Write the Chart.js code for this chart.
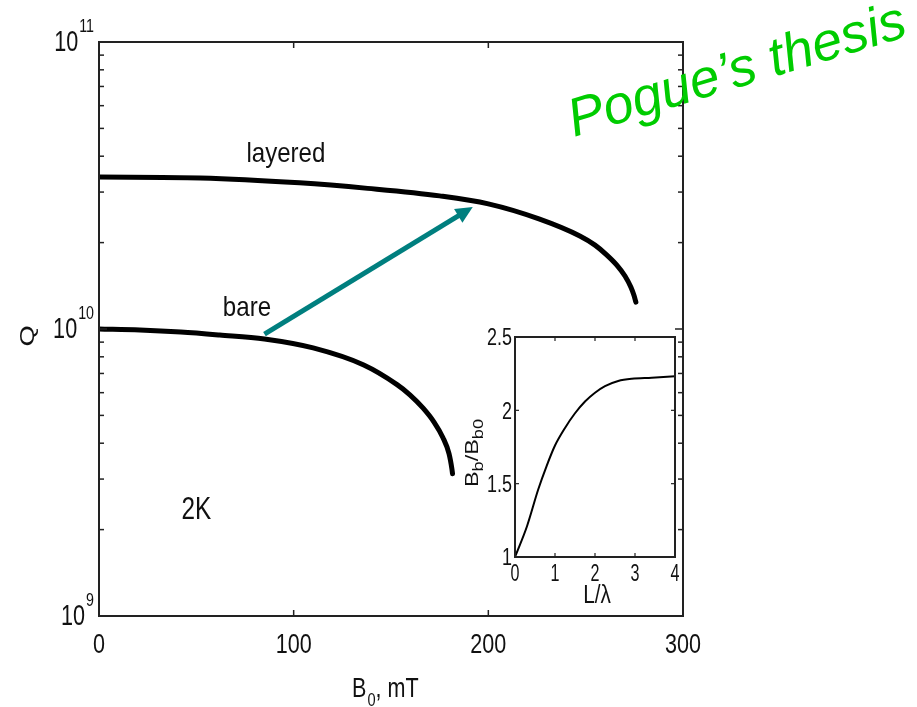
<!DOCTYPE html>
<html>
<head>
<meta charset="utf-8">
<script src="https://cdn.jsdelivr.net/npm/chart.js@4.4.1/dist/chart.umd.min.js"></script>
<style>
html, body { margin: 0; padding: 0; background: #fff; }
#wrap { position: relative; width: 917px; height: 707px; overflow: hidden; }
#main { position: absolute; left: 0; top: 0; }
#inset { position: absolute; left: 440px; top: 320px; }
</style>
</head>
<body>
<div id="wrap">
  <canvas id="main" width="917" height="707"></canvas>
  <canvas id="inset" width="260" height="300"></canvas>
</div>
<script>
// main plot: Q vs B0 (mT)
const layeredB = [0, 52, 103, 138, 175, 200, 226, 247, 254.8, 260.9, 266, 270.2, 273.2, 274.8, 275.8];
const layeredQ = [3.385e10, 3.36e10, 3.23e10, 3.09e10, 2.91e10, 2.73e10, 2.42e10, 2.11e10, 1.96e10, 1.81e10, 1.67e10, 1.53e10, 1.40e10, 1.31e10, 1.24e10];
const bareB = [0, 21, 42, 62, 85, 110, 136, 153.1, 159.7, 166.4, 172.1, 176.7, 179.8, 181.3, 181.6];
const bareQ = [1.00e10, 9.92e9, 9.76e9, 9.53e9, 9.23e9, 8.59e9, 7.49e9, 6.40e9, 5.90e9, 5.31e9, 4.74e9, 4.18e9, 3.68e9, 3.25e9, 3.13e9];

const bTicks = [0, 100, 200, 300];
const qDecades = [9, 10, 11];

// annotations, in data units [B, Q]
const layeredLabel = [96, 4.05e10];
const bareLabel = [76, 1.18e10];
const tempLabel = [50, 2.34e9];
const arrowFrom = [85, 9.6e9];
const arrowTo = [192, 2.66e10];

// inset: Bb/Bb0 vs L/lambda
const ratioL = [0, 0.3, 0.58, 0.79, 1.0, 1.25, 1.5, 1.75, 2.0, 2.25, 2.58, 2.92, 3.42, 4.0];
const ratioB = [1.0, 1.21, 1.46, 1.62, 1.76, 1.88, 1.98, 2.06, 2.12, 2.165, 2.2, 2.215, 2.222, 2.232];
const lTicks = [0, 1, 2, 3, 4];
const rTicks = [1, 1.5, 2, 2.5];

const FONT = '"Liberation Sans", Arial, Helvetica, sans-serif';
const INK = '#111';

function putText(ctx, s, x, y, size, sx, align, base, rot) {
    ctx.save();
    ctx.translate(x, y);
    if (rot) ctx.rotate(rot);
    ctx.scale(sx, 1);
    ctx.font = size + 'px ' + FONT;
    ctx.textAlign = align || 'center';
    ctx.textBaseline = base || 'middle';
    ctx.fillStyle = INK;
    ctx.fillText(s, 0, 0);
    ctx.restore();
}

function textW(ctx, s, size, sx) {
    ctx.font = size + 'px ' + FONT;
    return ctx.measureText(s).width * sx;
}

function line(ctx, x1, y1, x2, y2) {
    ctx.beginPath();
    ctx.moveTo(x1, y1);
    ctx.lineTo(x2, y2);
    ctx.stroke();
}

const mainDecor = {
    id: 'mainDecor',
    afterDraw(chart) {
        const ctx = chart.ctx;
        const a = chart.chartArea;
        const xs = chart.scales.x, ys = chart.scales.y;

        // frame
        ctx.save();
        ctx.strokeStyle = '#222';
        ctx.lineWidth = 2;
        ctx.strokeRect(a.left, a.top, a.right - a.left, a.bottom - a.top);

        // inward ticks
        ctx.lineWidth = 1.5;
        bTicks.forEach(v => {
            if (v === 0 || v === 300) return;
            const px = xs.getPixelForValue(v);
            line(ctx, px, a.bottom, px, a.bottom - 6);
            line(ctx, px, a.top, px, a.top + 6);
        });
        for (let d = 9; d < 11; d++) {
            for (let m = 2; m <= 9; m++) {
                const py = ys.getPixelForValue(m * Math.pow(10, d));
                line(ctx, a.left, py, a.left + 5, py);
                line(ctx, a.right, py, a.right - 5, py);
            }
        }
        const mid = ys.getPixelForValue(1e10);
        line(ctx, a.left, mid, a.left + 8, mid);
        line(ctx, a.right, mid, a.right - 8, mid);
        ctx.restore();

        // x tick labels
        bTicks.forEach(v => {
            putText(ctx, String(v), xs.getPixelForValue(v), 645, 28, 0.77);
        });

        // y tick labels 10^n
        qDecades.forEach(d => {
            const py = ys.getPixelForValue(Math.pow(10, d));
            const sup = String(d);
            const supW = textW(ctx, sup, 19, 0.75);
            const right = 94;
            putText(ctx, '10', right - supW - 1, py + 1, 30, 0.72, 'right');
            putText(ctx, sup, right - supW, py - 15, 19, 0.75, 'left');
        });

        // axis titles
        let bx = 352;
        putText(ctx, 'B', bx, 689, 28, 0.77, 'left');
        bx += textW(ctx, 'B', 28, 0.77) + 1;
        putText(ctx, '0', bx, 701, 19, 0.77, 'left');
        bx += textW(ctx, '0', 19, 0.77);
        putText(ctx, ', mT', bx, 689, 28, 0.77, 'left');

        putText(ctx, 'Q', 28, 336, 21, 1.3, 'center', 'middle', -Math.PI / 2);

        // curve labels
        putText(ctx, 'layered', xs.getPixelForValue(layeredLabel[0]), ys.getPixelForValue(layeredLabel[1]), 28, 0.86);
        putText(ctx, 'bare', xs.getPixelForValue(bareLabel[0]), ys.getPixelForValue(bareLabel[1]), 28, 0.86);
        putText(ctx, '2K', xs.getPixelForValue(tempLabel[0]), ys.getPixelForValue(tempLabel[1]), 32, 0.76);

        // arrow
        const x1 = xs.getPixelForValue(arrowFrom[0]), y1 = ys.getPixelForValue(arrowFrom[1]);
        const x2 = xs.getPixelForValue(arrowTo[0]), y2 = ys.getPixelForValue(arrowTo[1]);
        const ang = Math.atan2(y2 - y1, x2 - x1);
        const head = 17, half = 8;
        ctx.save();
        ctx.strokeStyle = '#007f7f';
        ctx.fillStyle = '#007f7f';
        ctx.lineWidth = 5;
        line(ctx, x1, y1, x2 - Math.cos(ang) * head * 0.8, y2 - Math.sin(ang) * head * 0.8);
        ctx.beginPath();
        ctx.moveTo(x2, y2);
        ctx.lineTo(x2 - Math.cos(ang) * head + Math.sin(ang) * half, y2 - Math.sin(ang) * head - Math.cos(ang) * half);
        ctx.lineTo(x2 - Math.cos(ang) * head - Math.sin(ang) * half, y2 - Math.sin(ang) * head + Math.cos(ang) * half);
        ctx.closePath();
        ctx.fill();
        ctx.restore();

        // slide note
        ctx.save();
        ctx.translate(574, 137);
        ctx.rotate(-16.8 * Math.PI / 180);
        ctx.font = 'italic 54px ' + FONT;
        ctx.fillStyle = '#00cc00';
        ctx.textAlign = 'left';
        ctx.textBaseline = 'alphabetic';
        ctx.fillText('Pogue\u2019s thesis', 0, 0);
        ctx.restore();
    }
};

new Chart(document.getElementById('main'), {
    type: 'line',
    data: {
        datasets: [{
            label: 'layered',
            data: layeredB.map((b, i) => ({ x: b, y: layeredQ[i] })),
            borderColor: '#000',
            borderWidth: 5,
            borderCapStyle: 'round',
            borderJoinStyle: 'round',
            pointRadius: 0,
            fill: false,
            cubicInterpolationMode: 'monotone'
        }, {
            label: 'bare',
            data: bareB.map((b, i) => ({ x: b, y: bareQ[i] })),
            borderColor: '#000',
            borderWidth: 5,
            borderCapStyle: 'round',
            borderJoinStyle: 'round',
            pointRadius: 0,
            fill: false,
            cubicInterpolationMode: 'monotone'
        }]
    },
    options: {
        responsive: false,
        animation: false,
        layout: { padding: { left: 99, right: 234, top: 42, bottom: 91 } },
        plugins: { legend: { display: false }, tooltip: { enabled: false } },
        scales: {
            x: { type: 'linear', min: 0, max: 300, display: false },
            y: { type: 'logarithmic', min: 1e9, max: 1e11, display: false }
        }
    },
    plugins: [mainDecor]
});

const insetDecor = {
    id: 'insetDecor',
    beforeDatasetsDraw(chart) {
        const ctx = chart.ctx, a = chart.chartArea;
        ctx.save();
        ctx.fillStyle = '#fff';
        ctx.fillRect(a.left, a.top, a.right - a.left, a.bottom - a.top);
        ctx.restore();
    },
    afterDraw(chart) {
        const ctx = chart.ctx, a = chart.chartArea;
        const xs = chart.scales.x, ys = chart.scales.y;
        ctx.save();
        ctx.strokeStyle = '#222';
        ctx.lineWidth = 2;
        ctx.strokeRect(a.left, a.top, a.right - a.left, a.bottom - a.top);
        ctx.lineWidth = 1.2;
        lTicks.forEach(v => {
            if (v === 0 || v === 4) return;
            const px = xs.getPixelForValue(v);
            line(ctx, px, a.bottom, px, a.bottom - 4);
            line(ctx, px, a.top, px, a.top + 4);
        });
        rTicks.forEach(v => {
            if (v === 1 || v === 2.5) return;
            const py = ys.getPixelForValue(v);
            line(ctx, a.left, py, a.left + 4, py);
            line(ctx, a.right, py, a.right - 4, py);
        });
        ctx.restore();

        lTicks.forEach(v => {
            putText(ctx, String(v), xs.getPixelForValue(v), 255, 23, 0.7);
        });
        rTicks.forEach(v => {
            putText(ctx, String(v), a.left - 3, ys.getPixelForValue(v) + 2, 23, 0.78, 'right');
        });
        putText(ctx, 'L/\u03bb', 157, 276, 26, 0.8);

        // rotated y title B_b/B_b0
        ctx.save();
        ctx.translate(38, 167);
        ctx.rotate(-Math.PI / 2);
        ctx.scale(1.3, 1);
        ctx.fillStyle = INK;
        ctx.textBaseline = 'alphabetic';
        ctx.textAlign = 'left';
        const parts = [['B', 18, 0], ['b', 14, 5], ['/', 18, 0], ['B', 18, 0], ['b0', 14, 5]];
        let tx = 0;
        parts.forEach(p => {
            ctx.font = p[1] + 'px ' + FONT;
            ctx.fillText(p[0], tx, p[2]);
            tx += ctx.measureText(p[0]).width;
        });
        ctx.restore();
    }
};

new Chart(document.getElementById('inset'), {
    type: 'line',
    data: {
        datasets: [{
            label: 'Bb/Bb0',
            data: ratioL.map((l, i) => ({ x: l, y: ratioB[i] })),
            borderColor: '#000',
            borderWidth: 2,
            pointRadius: 0,
            fill: false,
            cubicInterpolationMode: 'monotone'
        }]
    },
    options: {
        responsive: false,
        animation: false,
        layout: { padding: { left: 75, right: 25, top: 17, bottom: 63 } },
        plugins: { legend: { display: false }, tooltip: { enabled: false } },
        scales: {
            x: { type: 'linear', min: 0, max: 4, display: false },
            y: { type: 'linear', min: 1, max: 2.5, display: false }
        }
    },
    plugins: [insetDecor]
});
</script>
</body>
</html>
